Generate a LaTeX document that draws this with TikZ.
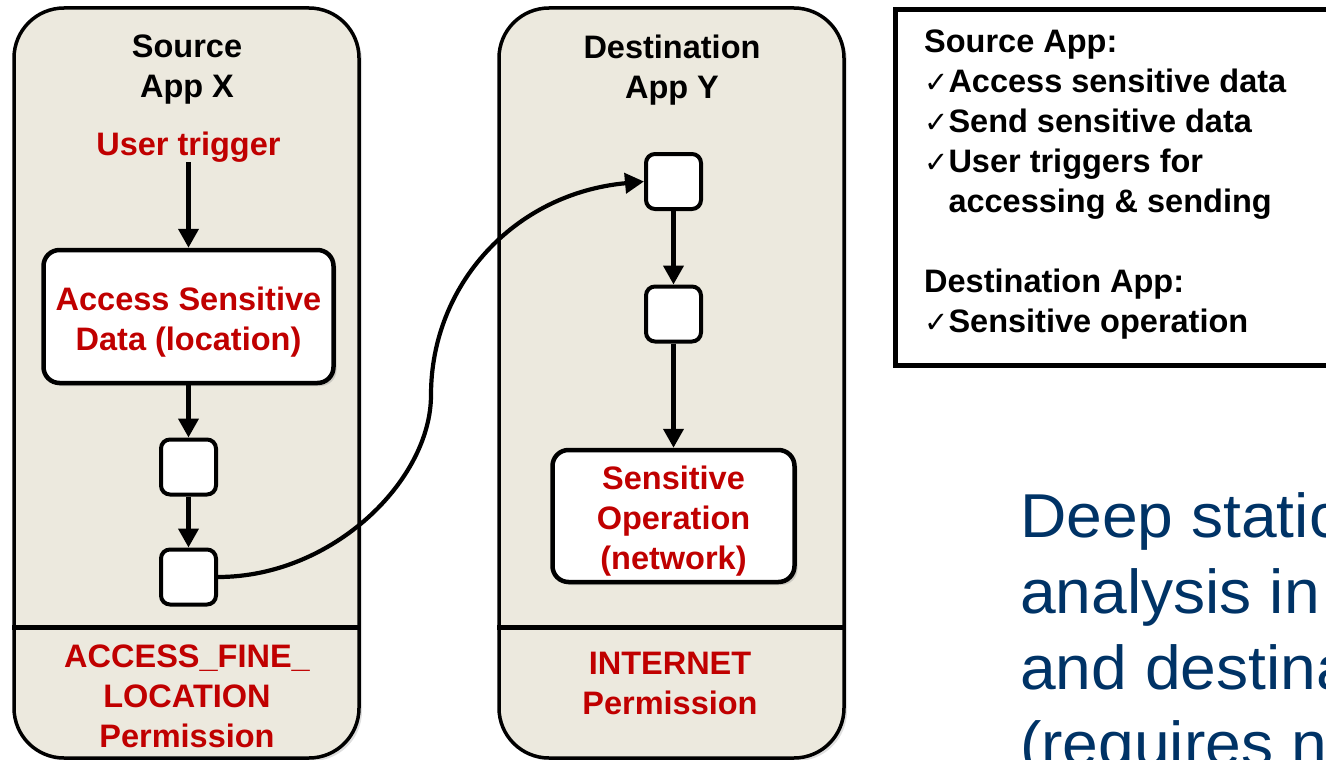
\documentclass[tikz,border=0pt]{standalone}
\usepackage{fontspec}
\setmainfont{Liberation Sans}
\newfontfamily\dejavu{DejaVu Sans}
\newfontfamily\widesans[FakeStretch=1.035]{Liberation Sans}
\usetikzlibrary{arrows.meta,shadows}
\definecolor{colbg}{RGB}{236,233,222}
\definecolor{lblred}{RGB}{192,0,0}
\definecolor{deepblue}{RGB}{0,51,102}
\newcommand{\lblfont}{\bfseries\fontsize{32.5}{40}\selectfont}
\newcommand{\chk}{{\dejavu\fontsize{29}{40}\selectfont ✓}}
\newcommand{\topstrut}{\rule{0pt}{34pt}}
\tikzset{
  appcol/.style={draw=black, line width=3.5pt, fill=colbg, rounded corners=50pt,
    minimum width=345pt, minimum height=750pt, inner sep=0pt,
    drop shadow={shadow xshift=3pt, shadow yshift=-3pt, opacity=0.25}},
  bigbox/.style={draw=black, line width=4.5pt, fill=white, rounded corners=16pt,
    inner sep=0pt, align=center, text=lblred, font=\lblfont,
    drop shadow={shadow xshift=3pt, shadow yshift=-3pt, opacity=0.3}},
  smallbox/.style={draw=black, line width=4pt, fill=white, rounded corners=9pt,
    minimum width=55pt, minimum height=55pt, inner sep=0pt},
  flow/.style={line width=4.2pt, -{Triangle[length=19pt,width=20pt]}},
  title/.style={font=\lblfont, align=center, inner sep=0pt},
  redlbl/.style={title, text=lblred},
  sepline/.style={line width=5pt},
}
\begin{document}
\begin{tikzpicture}[x=1pt,y=-1pt]
\useasboundingbox (0,0) rectangle (1326,760);
\clip (0,0) rectangle (1326,760);

% columns
\node[appcol] (col1) at (186.5,383) {};
\node[appcol] (col2) at (671.5,383) {};
\coordinate (sepy) at (0,627);
\draw[sepline] (col1.west |- sepy) -- (col1.east |- sepy);
\draw[sepline] (col2.west |- sepy) -- (col2.east |- sepy);

% column 1
\node[title] (t1) at (187,70) {Source\\App X};
\node[redlbl] (trig) at (188.5,147) {User trigger};
\node[bigbox, minimum width=290pt, minimum height=133pt] (acc) at (188.5,316.5) {\topstrut Access Sensitive\\Data (location)};
\node[smallbox] (s1) at (188.5,467) {};
\node[smallbox] (s2) at (188.5,577) {};
\node[redlbl] (perm1) at (187,696) {ACCESS\_FINE\_\\LOCATION\\Permission};

% column 2
\node[title] (t2) at (672,70) {Destination\\App Y};
\node[smallbox] (d1) at (673.5,181.5) {};
\node[smallbox] (d2) at (673.5,314) {};
\node[bigbox, minimum width=242pt, minimum height=132pt] (op) at (673.5,516) {\topstrut Sensitive\\Operation\\(network)};
\node[redlbl] (perm2) at (670,683) {INTERNET\\Permission};

% arrows
\draw[flow] (trig.south) -- (acc.north);
\draw[flow] (acc.south) -- (s1.north);
\draw[flow] (s1.south) -- (s2.north);
\draw[flow] (d1.south) -- (d2.north);
\draw[flow] (d2.south) -- (op.north);
\coordinate (bend) at (431,395);
\draw[flow] (s2.east) .. controls +(115,0) and +(0,85) .. (bend)
  .. controls +(0,-110) and +(-130,12) .. (d1.west);

% legend
\node[draw=black, line width=5pt, fill=white, minimum width=455pt, minimum height=356pt,
  anchor=north west, inner sep=0pt] (leg) at (893,7) {};
\node[anchor=north west, align=left, inner sep=0pt, font=\lblfont] (legtxt) at (924,30)
  {Source App:\\\chk Access sensitive data\\\chk Send sensitive data\\\chk User triggers for\\\hphantom{\chk}accessing \& sending\\[40pt]Destination App:\\\chk Sensitive operation};

% big text
\node[anchor=north west, align=left, inner sep=0pt, text=deepblue,
  font=\widesans\fontsize{62}{76}\selectfont] (deep) at (1020,492)
  {Deep static\\analysis in\\and destina\\(requires n};
\end{tikzpicture}
\end{document}
